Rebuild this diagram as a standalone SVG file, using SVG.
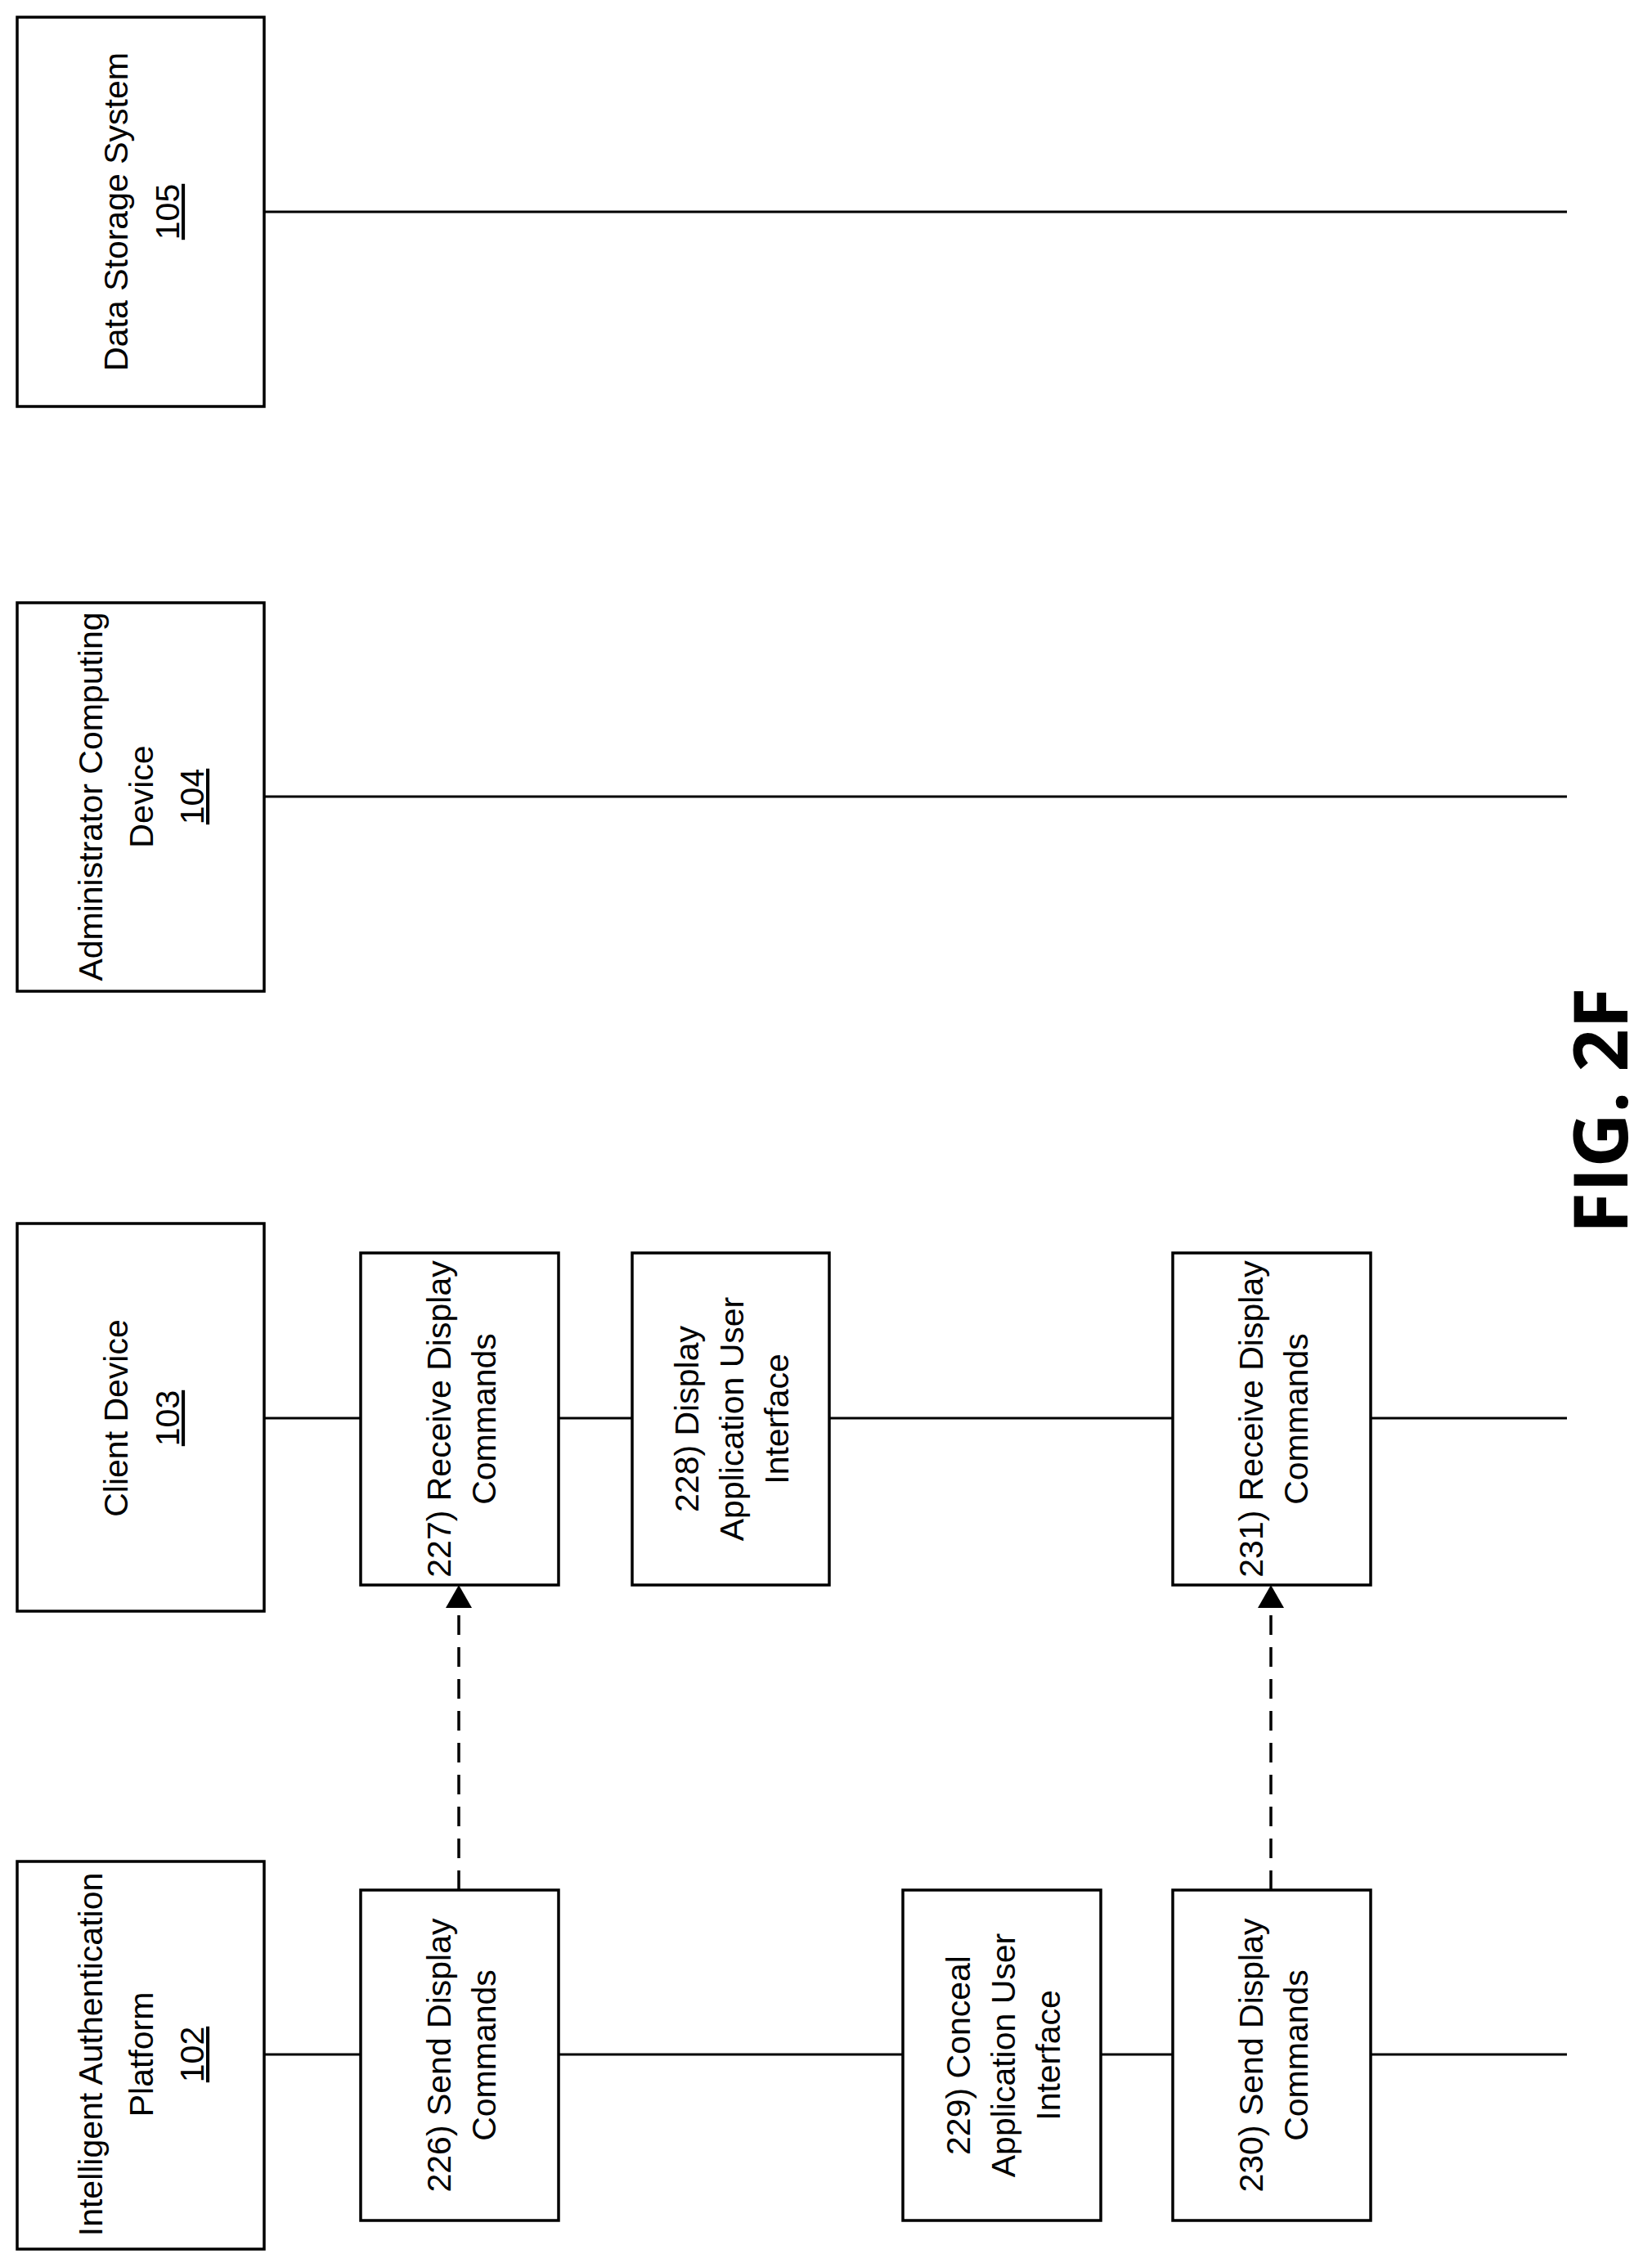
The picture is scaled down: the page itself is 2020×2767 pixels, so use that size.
<svg xmlns="http://www.w3.org/2000/svg" width="2020" height="2767" viewBox="0 0 2020 2767">
<style>
.b{fill:#fff;stroke:#000;stroke-width:3.5}
.l{stroke:#000;stroke-width:3;fill:none}
.d{stroke:#000;stroke-width:3.5;fill:none;stroke-dasharray:24 15}
text{font-family:"Liberation Sans",Arial,sans-serif;font-size:41px;text-anchor:middle;fill:#000}
.u{text-decoration:underline}
</style>
<rect width="2020" height="2767" fill="#fff"/>
<g id="connectors">
<line class="l" x1="323" y1="259" x2="1916" y2="259"/>
<line class="l" x1="323" y1="974" x2="1916" y2="974"/>
<line class="l" x1="323" y1="1734" x2="1916" y2="1734"/>
<line class="l" x1="323" y1="2512" x2="1916" y2="2512"/>
<path class="d" d="M561,2311 V1966"/>
<path d="M561,1938 L545,1966 L577,1966z"/>
<path class="d" d="M1554,2311 V1966"/>
<path d="M1554,1938 L1538,1966 L1570,1966z"/>
</g>
<g id="n105"><rect class="b" x="21" y="21" width="302" height="476"/>
<text transform="translate(172,259) rotate(-90)"><tspan x="0" y="-16">Data Storage System</tspan><tspan x="0" y="47" class="u">105</tspan></text></g>
<g id="n104"><rect class="b" x="21" y="737" width="302" height="475"/>
<text transform="translate(172,974) rotate(-90)"><tspan x="0" y="-47">Administrator Computing</tspan><tspan x="0" y="15">Device</tspan><tspan x="0" y="77" class="u">104</tspan></text></g>
<g id="n103"><rect class="b" x="21" y="1496" width="302" height="474"/>
<text transform="translate(172,1734) rotate(-90)"><tspan x="0" y="-16">Client Device</tspan><tspan x="0" y="47" class="u">103</tspan></text></g>
<g id="n102"><rect class="b" x="21" y="2276" width="302" height="474"/>
<text transform="translate(172,2512) rotate(-90)"><tspan x="0" y="-47">Intelligent Authentication</tspan><tspan x="0" y="15">Platform</tspan><tspan x="0" y="77" class="u">102</tspan></text></g>
<g id="s226"><rect class="b" x="441" y="2311" width="242" height="404"/>
<text transform="translate(562,2513) rotate(-90)"><tspan x="0" y="-11">226) Send Display</tspan><tspan x="0" y="44">Commands</tspan></text></g>
<g id="s227"><rect class="b" x="441" y="1532" width="242" height="406"/>
<text transform="translate(562,1735) rotate(-90)"><tspan x="0" y="-11">227) Receive Display</tspan><tspan x="0" y="44">Commands</tspan></text></g>
<g id="s228"><rect class="b" x="773" y="1532" width="241" height="406"/>
<text transform="translate(893,1735) rotate(-90)"><tspan x="0" y="-39">228) Display</tspan><tspan x="0" y="16">Application User</tspan><tspan x="0" y="71">Interface</tspan></text></g>
<g id="s229"><rect class="b" x="1104" y="2311" width="242" height="404"/>
<text transform="translate(1225,2513) rotate(-90)"><tspan x="0" y="-39">229) Conceal</tspan><tspan x="0" y="16">Application User</tspan><tspan x="0" y="71">Interface</tspan></text></g>
<g id="s230"><rect class="b" x="1434" y="2311" width="242" height="404"/>
<text transform="translate(1555,2513) rotate(-90)"><tspan x="0" y="-11">230) Send Display</tspan><tspan x="0" y="44">Commands</tspan></text></g>
<g id="s231"><rect class="b" x="1434" y="1532" width="242" height="406"/>
<text transform="translate(1555,1735) rotate(-90)"><tspan x="0" y="-11">231) Receive Display</tspan><tspan x="0" y="44">Commands</tspan></text></g>
<g id="fig"><text transform="translate(1958,1358) rotate(-90)" style="font-family:'Open Sans',sans-serif;font-weight:bold;font-size:92px" y="32">FIG. 2F</text></g>
</svg>
